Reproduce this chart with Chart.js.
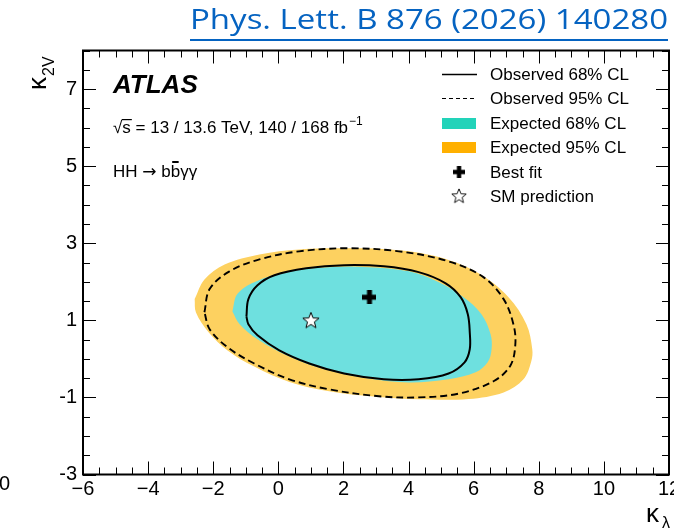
<!DOCTYPE html>
<html>
<head>
<meta charset="utf-8">
<script src="https://cdn.jsdelivr.net/npm/chart.js@4.4.0/dist/chart.umd.min.js"></script>
<style>
html, body { margin: 0; padding: 0; background: #fff; }
#wrap { position: relative; width: 674px; height: 532px; overflow: hidden; }
#ref { position: absolute; left: 190px; top: 2px; font-family: "Open Sans", sans-serif; font-size: 27px; line-height: 34px;
       color: #0563c1; white-space: nowrap; transform-origin: 0 0; }
#refline { position: absolute; left: 190px; top: 39px; width: 478px; height: 2px; background: #0563c1; }
</style>
</head>
<body>
<div id="wrap">
  <canvas id="c" width="674" height="532"></canvas>
  <div id="ref">Phys. Lett. B 876 (2026) 140280</div>
  <div id="refline"></div>
</div>
<script>
// axis ticks
const xTickValues = [-6, -4, -2, 0, 2, 4, 6, 8, 10, 12];
const xTickLabels = ['−6', '−4', '−2', '0', '2', '4', '6', '8', '10', '12'];
const yTickValues = [-3, -1, 1, 3, 5, 7];
const yTickLabels = ['-3', '-1', '1', '3', '5', '7'];

// contours (kappa_lambda, kappa_2V)
const expected95 = [[-2.57,1.55],[-2.27,2.06],[-1.65,2.45],[-0.58,2.71],[0.64,2.84],[2.17,2.87],[3.70,2.82],[4.93,2.64],
  [6.15,2.22],[7.07,1.60],[7.62,0.90],[7.80,0.25],[7.77,-0.06],[7.53,-0.53],[6.92,-0.87],[5.85,-1.04],[4.31,-1.05],
  [3.09,-0.99],[1.56,-0.84],[0.34,-0.60],[-0.74,-0.20],[-1.56,0.22],[-2.15,0.70],[-2.53,1.20]];
const expected68 = [[-1.41,1.23],[-1.26,1.68],[-0.74,1.99],[0.34,2.27],[1.56,2.38],[2.78,2.38],[4.01,2.27],[4.93,1.99],
  [5.69,1.60],[6.24,1.16],[6.52,0.64],[6.55,0.25],[6.43,-0.09],[6.06,-0.35],[5.23,-0.53],[4.01,-0.61],[2.78,-0.51],
  [1.35,-0.25],[0.34,0.06],[-0.64,0.51],[-1.19,0.90]];
const observed95 = [[-2.27,1.21],[-2.11,1.81],[-1.50,2.27],[-0.58,2.58],[0.64,2.79],[2.17,2.87],[3.70,2.79],[5.23,2.53],
  [6.30,2.12],[6.92,1.55],[7.22,0.90],[7.28,0.38],[7.13,-0.17],[6.61,-0.58],[5.54,-0.90],[4.31,-1.00],[3.09,-0.97],
  [1.56,-0.79],[0.34,-0.53],[-0.74,-0.12],[-1.56,0.30],[-2.11,0.77]];
const observed68 = [[-0.98,1.10],[-0.92,1.55],[-0.64,1.91],[-0.12,2.17],[0.86,2.35],[2.02,2.43],[3.24,2.40],[4.31,2.25],
  [5.14,1.96],[5.60,1.60],[5.82,1.16],[5.88,0.69],[5.88,0.25],[5.72,-0.09],[5.23,-0.38],[4.31,-0.53],[3.24,-0.53],
  [2.02,-0.38],[0.95,-0.12],[0.03,0.22],[-0.64,0.61],[-0.92,0.90]];
const bestFit = [2.8, 1.6];
const smPoint = [1, 1];

const legendLabels = ['Observed 68% CL', 'Observed 95% CL', 'Expected 68% CL', 'Expected 95% CL', 'Best fit', 'SM prediction'];

const FONT = '"Liberation Sans", Arial, sans-serif';

function closed(arr) {
  let p = arr.map(d => ({x: d[0], y: d[1]}));
  p.push(p[0]);
  return p;
}

// marker images
function plusImg() {
  let c = document.createElement('canvas');
  c.width = 14; c.height = 14;
  let g = c.getContext('2d');
  g.fillStyle = '#000';
  g.fillRect(0, 4.5, 14, 5);
  g.fillRect(4.5, 0, 5, 14);
  return c;
}
function starPath(g, cx, cy, R, r) {
  g.beginPath();
  for (let i = 0; i < 10; i++) {
    let rad = i % 2 ? r : R;
    let a = -Math.PI / 2 + i * Math.PI / 5;
    let px = cx + rad * Math.cos(a), py = cy + rad * Math.sin(a);
    if (i == 0) g.moveTo(px, py); else g.lineTo(px, py);
  }
  g.closePath();
}
function starImg() {
  let c = document.createElement('canvas');
  c.width = 20; c.height = 20;
  let g = c.getContext('2d');
  starPath(g, 10, 10.5, 8.5, 3.6);
  g.fillStyle = '#fff'; g.fill();
  g.strokeStyle = '#000'; g.lineWidth = 1; g.stroke();
  return c;
}
const plusCanvas = plusImg();
const starCanvas = starImg();

const minorStep = 0.5;
const frame = {
  id: 'frame',
  afterDatasetsDraw(chart) {
    const {ctx, chartArea: a, scales: {x, y}} = chart;
    ctx.save();
    ctx.strokeStyle = '#000';
    ctx.lineWidth = 1;
    ctx.beginPath();
    for (let v = x.min; v <= x.max; v += minorStep) {
      let px = Math.round(x.getPixelForValue(v)) + 0.5;
      let len = xTickValues.includes(v) ? 13 : 7;
      ctx.moveTo(px, a.bottom); ctx.lineTo(px, a.bottom - len);
      ctx.moveTo(px, a.top); ctx.lineTo(px, a.top + len);
    }
    for (let v = y.min; v <= y.max; v += minorStep) {
      let py = Math.round(y.getPixelForValue(v)) + 0.5;
      let len = yTickValues.includes(v) ? 13 : 7;
      ctx.moveTo(a.left, py); ctx.lineTo(a.left + len, py);
      ctx.moveTo(a.right, py); ctx.lineTo(a.right - len, py);
    }
    ctx.stroke();
    ctx.lineWidth = 2;
    ctx.strokeRect(a.left, a.top, a.right - a.left, a.bottom - a.top);
    ctx.restore();
  },
  afterDraw(chart) {
    const ctx = chart.ctx;
    ctx.save();
    ctx.fillStyle = '#000';
    ctx.textBaseline = 'alphabetic';

    // axis titles
    ctx.save();
    ctx.translate(46, 90);
    ctx.rotate(-Math.PI / 2);
    ctx.font = '26px ' + FONT;
    ctx.fillText('κ', 0, 0);
    let kw = ctx.measureText('κ').width;
    ctx.font = '16px ' + FONT;
    ctx.fillText('2V', kw + 1, 8);
    ctx.restore();

    ctx.font = '26px ' + FONT;
    ctx.fillText('κ', 646, 522);
    ctx.font = '16px ' + FONT;
    ctx.fillText('λ', 662, 528);

    // stray label from neighbouring figure
    ctx.font = '20px ' + FONT;
    ctx.fillText('0', -1, 490);

    // ATLAS label
    ctx.font = 'italic bold 26px ' + FONT;
    ctx.fillText('ATLAS', 113, 93);

    ctx.font = '17px ' + FONT;
    let x0 = 113, base = 133;
    ctx.fillText('√', x0, base);
    let w1 = ctx.measureText('√').width;
    ctx.fillText('s', x0 + w1, base);
    let ws = ctx.measureText('s').width;
    ctx.fillRect(x0 + w1 - 0.5, base - 14, ws + 1.5, 1.2);
    let rest = ' = 13 / 13.6 TeV, 140 / 168 fb';
    ctx.fillText(rest, x0 + w1 + ws, base);
    let wr = ctx.measureText(rest).width;
    ctx.font = '12px ' + FONT;
    ctx.fillText('−1', x0 + w1 + ws + wr + 1, base - 8);

    // HH -> bb~yy, arrow from DejaVu for a wider glyph
    base = 177;
    ctx.font = '17px ' + FONT;
    ctx.fillText('HH ', x0, base);
    let xc = x0 + ctx.measureText('HH ').width;
    ctx.font = '17px "DejaVu Sans", sans-serif';
    ctx.fillText('→', xc, base);
    xc += ctx.measureText('→').width;
    ctx.font = '17px ' + FONT;
    ctx.fillText(' b', xc, base);
    xc += ctx.measureText(' b').width;
    let wb = ctx.measureText('b').width;
    ctx.fillText('b', xc, base);
    ctx.fillRect(xc + 1.5, base - 16, wb - 3, 2);
    ctx.fillText('γγ', xc + wb, base);

    // legend
    const rows = [74, 98, 123, 147, 172, 196];
    ctx.font = '17px ' + FONT;
    ctx.textBaseline = 'middle';
    legendLabels.forEach((t, i) => ctx.fillText(t, 490, rows[i] + 1));
    ctx.strokeStyle = '#000';
    ctx.lineWidth = 1.5;
    ctx.beginPath(); ctx.moveTo(442, rows[0] + 0.5); ctx.lineTo(477, rows[0] + 0.5); ctx.stroke();
    ctx.lineWidth = 1;
    ctx.setLineDash([4, 3]);
    ctx.beginPath(); ctx.moveTo(442, rows[1] + 0.5); ctx.lineTo(477, rows[1] + 0.5); ctx.stroke();
    ctx.setLineDash([]);
    ctx.fillStyle = '#22d3b9';
    ctx.fillRect(442, rows[2] - 5, 34, 11);
    ctx.fillStyle = '#ffb000';
    ctx.fillRect(442, rows[3] - 5, 34, 11);
    ctx.drawImage(plusCanvas, 459 - 6, rows[4] - 6, 12, 12);
    ctx.drawImage(starCanvas, 459 - 9, rows[5] - 9, 18, 18);
    ctx.restore();
  }
};

new Chart(document.getElementById('c'), {
  type: 'scatter',
  data: {
    datasets: [
      {
        label: 'Best fit', data: [{x: bestFit[0], y: bestFit[1]}],
        pointStyle: plusCanvas, order: 0
      },
      {
        label: 'SM prediction', data: [{x: smPoint[0], y: smPoint[1]}],
        pointStyle: starCanvas, order: 0
      },
      {
        label: 'Observed 68% CL', data: closed(observed68), showLine: true, pointRadius: 0,
        borderColor: '#000', borderWidth: 2, tension: 0.35, fill: false, order: 1
      },
      {
        label: 'Observed 95% CL', data: closed(observed95), showLine: true, pointRadius: 0,
        borderColor: '#000', borderWidth: 1.9, borderDash: [7, 4], tension: 0.35, fill: false, order: 2
      },
      {
        label: 'Expected 68% CL', data: closed(expected68), showLine: true, pointRadius: 0,
        borderWidth: 0, borderColor: 'rgba(0,0,0,0)', backgroundColor: '#6ee0df', tension: 0.35, fill: 'shape', order: 3
      },
      {
        label: 'Expected 95% CL', data: closed(expected95), showLine: true, pointRadius: 0,
        borderWidth: 0, borderColor: 'rgba(0,0,0,0)', backgroundColor: '#fdd160', tension: 0.35, fill: 'shape', order: 4
      }
    ]
  },
  options: {
    responsive: false,
    animation: false,
    layout: { padding: { top: 50.5, right: 3, left: 0, bottom: 0 } },
    plugins: { legend: { display: false }, tooltip: { enabled: false } },
    scales: {
      x: {
        type: 'linear', min: -6, max: 12,
        afterBuildTicks: s => { s.ticks = xTickValues.map(v => ({value: v})); },
        afterFit: s => { s.height = 532 - 474.5; s.paddingLeft = 0; s.paddingRight = 0; },
        grid: { display: false, drawTicks: false },
        border: { display: false },
        ticks: {
          callback: v => xTickLabels[xTickValues.indexOf(v)],
          font: { family: FONT, size: 20 }, color: '#000', padding: 3,
          maxRotation: 0, autoSkip: false
        }
      },
      y: {
        type: 'linear', min: -3, max: 8,
        afterBuildTicks: s => { s.ticks = yTickValues.map(v => ({value: v})); },
        afterFit: s => { s.width = 83; s.paddingTop = 0; s.paddingBottom = 0; },
        grid: { display: false, drawTicks: false },
        border: { display: false },
        ticks: {
          callback: v => yTickLabels[yTickValues.indexOf(v)],
          font: { family: FONT, size: 20 }, color: '#000', padding: 6,
          autoSkip: false
        }
      }
    }
  },
  plugins: [frame]
});

// fit the reference line to its width in the original
const ref = document.getElementById('ref');
ref.style.transform = 'scaleX(' + (478 / ref.offsetWidth) + ')';
</script>
</body>
</html>
